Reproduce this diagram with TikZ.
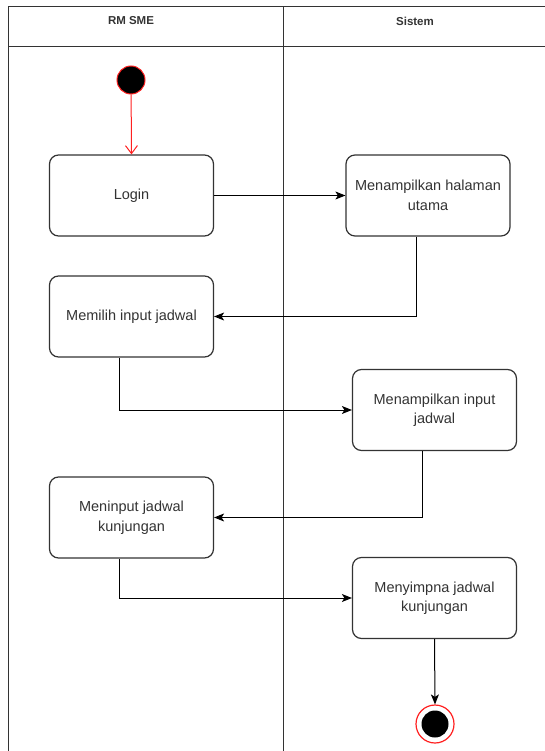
\documentclass[tikz,border=0pt]{standalone}
\usepackage{fontspec}
\setmainfont{Liberation Sans}
\usetikzlibrary{arrows.meta}
\definecolor{ink}{HTML}{333333}
\definecolor{alert}{HTML}{FF2020}
\tikzset{
  actbox/.style={draw=ink, line width=1.2pt, rounded corners=9pt, fill=white,
    minimum width=164pt, minimum height=81pt, inner sep=2pt,
    align=center, text=ink,
    font=\fontsize{14.5}{19.5}\selectfont},
  lanehead/.style={font=\bfseries\fontsize{11.5}{14}\selectfont, text=ink},
  lane/.style={draw=ink, line width=1pt},
  flow/.style={draw=black, line width=1pt, -{Stealth[length=10pt,width=8pt,inset=2.5pt]}},
  startflow/.style={draw=alert, line width=1pt, -{Straight Barb[length=8pt,width=12pt]}},
}
\begin{document}
\begin{tikzpicture}[x=1pt,y=-1pt]
  \useasboundingbox (0,0) rectangle (545,751);
  % swimlane frame
  \draw[lane] (546,7) -- (8,7) -- (8,751);
  \draw[lane] (8,47) -- (546,47);
  \draw[lane] (283,7) -- (283,751);
  \node[lanehead] (laneA) at (131,21) {RM SME};
  \node[lanehead] (laneB) at (415,21) {Sistem};

  % initial and final states
  \node[circle, fill=black, draw=alert, line width=1pt, minimum size=28pt, inner sep=0pt] (start) at (131,80) {};
  \node[circle, fill=white, draw=alert, line width=1.2pt, minimum size=38pt, inner sep=0pt] (stop) at (435,724) {};
  \node[circle, fill=black, minimum size=27pt, inner sep=0pt] (stopdot) at (435,724) {};

  % activities
  \node[actbox] (login)   at (131.5,195.5) {Login};
  \node[actbox] (utama)   at (428,195.5)   {Menampilkan halaman\\utama};
  \node[actbox] (memilih) at (131.5,316.5) {Memilih input jadwal};
  \node[actbox] (tampil)  at (434.5,410)   {Menampilkan input\\jadwal};
  \node[actbox] (input)   at (131.5,517.5) {Meninput jadwal\\kunjungan};
  \node[actbox] (simpan)  at (434.5,598)   {Menyimpna jadwal\\kunjungan};

  % control flow
  \draw[startflow] (start) -- (login.north);
  \draw[flow] (login.east) -- (utama.west);
  \draw[flow] ([xshift=-12pt]utama.south) |- (memilih.east);
  \draw[flow] ([xshift=-12.5pt]memilih.south) |- (tampil.west);
  \draw[flow] ([xshift=-12.5pt]tampil.south) |- (input.east);
  \draw[flow] ([xshift=-12.5pt]input.south) |- (simpan.west);
  \draw[flow] (simpan.south) -- (stop.north);
\end{tikzpicture}
\end{document}
